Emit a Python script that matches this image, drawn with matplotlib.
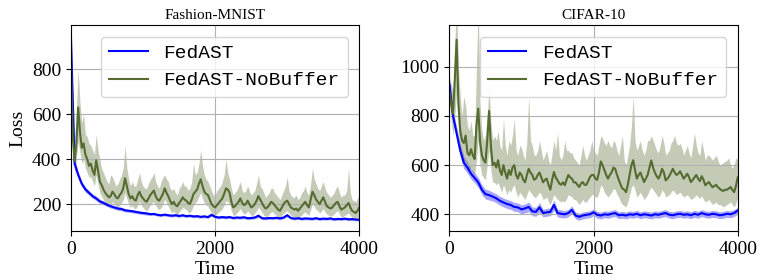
import numpy as np
import matplotlib
matplotlib.use("Agg")
import matplotlib.pyplot as plt

plt.rcParams['font.family'] = 'serif'
plt.rcParams['font.serif'] = ['Liberation Serif', 'DejaVu Serif']

# FedAST curves sampled every 50 time units, NoBuffer curves every 25
time50 = np.arange(0, 4001, 50)
time25 = np.arange(0, 4001, 25)

# ---- Fashion-MNIST ----
fm_buf = [940, 380, 330, 290, 265, 250, 235, 225, 212, 205,
          197, 190, 185, 180, 178, 172, 170, 168, 165, 162,
          160, 158, 155, 156, 152, 150, 153, 150, 148, 150,
          147, 150, 146, 148, 145, 146, 143, 145, 142, 152,
          143, 140, 142, 140, 142, 138, 140, 139, 141, 137,
          138, 140, 148, 137, 136, 138, 137, 139, 136, 140,
          150, 138, 135, 137, 134, 136, 135, 134, 137, 133,
          135, 134, 136, 132, 134, 133, 135, 132, 133, 131,
          130]
fm_buf_sd = [10, 25, 15, 12, 12, 10, 10, 10, 9, 9,
             8, 8, 8, 8, 8, 7, 7, 7, 7, 7,
             7, 7, 6, 6, 6, 6, 6, 6, 6, 6,
             6, 6, 6, 6, 6, 6, 6, 6, 6, 7,
             6, 6, 6, 6, 6, 6, 6, 6, 6, 6,
             6, 6, 7, 6, 6, 6, 6, 6, 6, 6,
             7, 6, 6, 6, 6, 6, 6, 6, 6, 6,
             6, 6, 6, 6, 6, 6, 6, 6, 6, 6,
             6]
fm_nobuf = [820, 500, 390, 470, 630, 520, 450, 470, 420, 400,
            370, 380, 350, 330, 395, 350, 300, 285, 265, 250,
            240, 230, 235, 255, 245, 230, 225, 240, 250, 270,
            315, 280, 245, 225, 235, 220, 215, 240, 255, 235,
            225, 215, 210, 225, 240, 250, 260, 235, 220, 215,
            230, 245, 270, 250, 235, 215, 200, 210, 195, 190,
            205, 215, 230, 220, 215, 205, 200, 220, 245, 255,
            265, 290, 310, 280, 255, 245, 240, 220, 200, 190,
            185, 195, 205, 215, 225, 245, 270, 265, 250, 210,
            185, 190, 200, 210, 225, 205, 195, 200, 215, 200,
            185, 190, 200, 215, 235, 220, 205, 190, 180, 185,
            195, 210, 205, 195, 185, 175, 170, 185, 200, 210,
            215, 200, 185, 180, 175, 180, 170, 180, 190, 200,
            210, 195, 185, 220, 255, 240, 220, 210, 200, 215,
            230, 210, 190, 185, 180, 185, 195, 205, 210, 190,
            175, 180, 185, 195, 205, 185, 170, 165, 160, 170,
            185]
fm_nobuf_hi = [880, 700, 480, 620, 800, 650, 560, 600, 510, 500,
               470, 460, 440, 420, 510, 440, 400, 360, 340, 320,
               300, 290, 330, 320, 300, 280, 290, 310, 330, 360,
               460, 360, 310, 280, 300, 280, 280, 310, 340, 300,
               280, 270, 270, 290, 310, 320, 340, 300, 280, 270,
               300, 320, 330, 310, 300, 270, 260, 270, 250, 240,
               270, 280, 300, 280, 280, 260, 270, 300, 380, 330,
               340, 380, 440, 370, 330, 310, 300, 280, 260, 240,
               240, 260, 270, 280, 300, 330, 400, 340, 310, 270,
               240, 250, 260, 280, 300, 260, 250, 260, 280, 260,
               240, 250, 260, 290, 330, 280, 270, 250, 230, 240,
               250, 270, 270, 250, 240, 230, 220, 240, 260, 280,
               320, 260, 240, 230, 230, 240, 220, 230, 250, 260,
               280, 250, 240, 290, 360, 310, 290, 270, 260, 280,
               300, 270, 250, 240, 230, 240, 250, 270, 280, 250,
               230, 240, 240, 260, 360, 250, 220, 215, 210, 225,
               240]
fm_nobuf_lo = [760, 420, 340, 400, 480, 430, 380, 400, 360, 340,
               320, 320, 300, 280, 330, 290, 250, 235, 220, 205,
               200, 190, 195, 210, 200, 190, 185, 195, 205, 220,
               250, 225, 200, 185, 195, 180, 180, 195, 210, 195,
               185, 175, 170, 180, 195, 205, 210, 195, 180, 175,
               185, 200, 220, 205, 190, 175, 160, 170, 155, 150,
               165, 175, 185, 180, 175, 165, 160, 175, 195, 205,
               215, 235, 250, 225, 205, 195, 190, 175, 160, 150,
               150, 155, 165, 170, 180, 195, 215, 210, 200, 170,
               150, 150, 160, 170, 180, 165, 155, 160, 170, 160,
               150, 150, 160, 170, 185, 175, 165, 150, 145, 145,
               155, 165, 165, 155, 150, 140, 140, 150, 160, 165,
               170, 160, 150, 145, 140, 145, 135, 145, 150, 160,
               165, 155, 150, 175, 200, 190, 175, 170, 160, 170,
               180, 165, 155, 150, 145, 150, 155, 165, 170, 155,
               140, 145, 150, 155, 160, 150, 140, 135, 130, 135,
               150]

# ---- CIFAR-10 ----
cf_buf = [930, 800, 730, 660, 610, 590, 565, 548, 530, 500,
          482, 478, 472, 465, 455, 448, 442, 438, 430, 428,
          420, 424, 430, 412, 410, 428, 405, 408, 410, 438,
          405, 402, 400, 405, 418, 395, 390, 395, 398, 400,
          408, 398, 395, 400, 398, 402, 405, 396, 398, 395,
          400, 398, 402, 396, 400, 398, 395, 400, 398, 402,
          405, 398, 396, 400, 402, 398, 400, 396, 402, 398,
          405, 400, 398, 402, 400, 396, 398, 402, 400, 405,
          415]
cf_buf_sd = [15, 25, 25, 25, 25, 22, 22, 20, 20, 20,
             20, 20, 18, 18, 18, 18, 18, 18, 18, 18,
             18, 18, 20, 18, 18, 20, 16, 16, 16, 20,
             16, 16, 15, 15, 16, 14, 14, 14, 14, 14,
             14, 14, 14, 14, 14, 14, 14, 14, 14, 14,
             14, 14, 14, 14, 14, 14, 14, 14, 14, 14,
             14, 14, 14, 14, 14, 14, 14, 14, 14, 14,
             14, 14, 14, 14, 14, 14, 14, 14, 14, 14,
             14]
cf_nobuf = [900, 850, 810, 950, 1110, 850, 740, 700, 690, 720,
            650, 640, 665, 640, 625, 760, 830, 700, 640, 620,
            610, 700, 820, 680, 600, 610, 590, 620, 580, 560,
            600, 570, 545, 580, 560, 590, 600, 560, 545, 570,
            560, 540, 530, 560, 585, 570, 560, 540, 545, 560,
            570, 550, 530, 540, 545, 520, 500, 540, 572, 550,
            538, 525, 520, 530, 518, 540, 560, 550, 545, 530,
            530, 520, 511, 525, 531, 520, 520, 535, 552, 560,
            560, 545, 540, 570, 615, 600, 580, 560, 545, 560,
            570, 590, 585, 560, 540, 520, 505, 500, 490, 520,
            560, 600, 620, 580, 545, 560, 570, 550, 531, 545,
            560, 590, 619, 590, 570, 555, 545, 560, 585, 570,
            538, 545, 555, 570, 585, 570, 560, 565, 575, 560,
            545, 555, 565, 550, 531, 540, 550, 560, 545, 535,
            555, 540, 518, 525, 531, 520, 510, 515, 520, 510,
            504, 498, 495, 500, 500, 505, 511, 500, 490, 515,
            550]
cf_nobuf_hi = [960, 930, 900, 1100, 1250, 1000, 880, 800, 880, 840,
               760, 740, 780, 720, 720, 1000, 1250, 850, 740, 700,
               720, 800, 920, 780, 700, 720, 700, 740, 680, 660,
               790, 680, 640, 700, 680, 720, 790, 660, 640, 680,
               670, 640, 620, 700, 880, 700, 680, 640, 640, 660,
               700, 660, 620, 640, 660, 620, 600, 650, 700, 660,
               734, 640, 620, 640, 700, 660, 660, 650, 650, 630,
               620, 610, 600, 640, 680, 640, 620, 640, 660, 700,
               660, 650, 640, 680, 720, 710, 690, 680, 700, 680,
               670, 700, 690, 660, 640, 680, 720, 620, 600, 640,
               680, 760, 880, 700, 660, 680, 700, 660, 640, 660,
               700, 700, 720, 700, 680, 660, 650, 680, 720, 690,
               640, 650, 660, 690, 700, 720, 690, 680, 690, 670,
               640, 660, 680, 650, 630, 680, 730, 680, 650, 640,
               700, 660, 620, 640, 640, 630, 620, 630, 640, 620,
               600, 605, 610, 615, 620, 630, 600, 590, 600, 630,
               620]
cf_nobuf_lo = [850, 780, 720, 800, 900, 740, 650, 620, 610, 620,
               580, 570, 590, 570, 560, 620, 700, 600, 560, 550,
               540, 600, 660, 580, 530, 530, 520, 530, 510, 490,
               520, 500, 480, 500, 490, 510, 520, 490, 470, 490,
               480, 470, 460, 480, 500, 490, 480, 470, 470, 480,
               490, 480, 460, 465, 470, 450, 440, 460, 480, 470,
               460, 455, 450, 455, 450, 465, 480, 475, 470, 460,
               460, 450, 440, 450, 460, 450, 450, 460, 470, 480,
               480, 470, 470, 490, 520, 510, 490, 480, 470, 480,
               490, 505, 500, 480, 470, 450, 440, 435, 430, 450,
               480, 510, 520, 500, 470, 480, 490, 475, 460, 470,
               480, 500, 510, 500, 490, 480, 470, 480, 500, 490,
               470, 475, 480, 490, 500, 490, 480, 485, 490, 480,
               470, 475, 480, 470, 460, 465, 470, 480, 470, 465,
               475, 460, 450, 455, 460, 450, 440, 445, 450, 440,
               440, 435, 430, 435, 440, 445, 450, 440, 430, 445,
               470]

panels = [
    ("Fashion-MNIST", fm_buf, fm_buf_sd, fm_nobuf, fm_nobuf_lo, fm_nobuf_hi,
     (80, 997), [200, 400, 600, 800]),
    ("CIFAR-10", cf_buf, cf_buf_sd, cf_nobuf, cf_nobuf_lo, cf_nobuf_hi,
     (332, 1170), [400, 600, 800, 1000]),
]

blue = "blue"
green = "#556b2f"

fig, axes = plt.subplots(1, 2, figsize=(7.6, 2.8), dpi=100)
fig.subplots_adjust(left=0.0934, right=0.9707, bottom=0.175, top=0.9107, wspace=0.3125)

for ax, (title, buf, buf_sd, nob, nob_lo, nob_hi, ylim, yticks) in zip(axes, panels):
    buf = np.array(buf)
    buf_sd = np.array(buf_sd)
    ax.fill_between(time50, buf - buf_sd, buf + buf_sd, color=blue, alpha=0.35, lw=0)
    ax.plot(time50, buf, color=blue, lw=1.5, label="FedAST")
    ax.fill_between(time25, nob_lo, nob_hi, color=green, alpha=0.35, lw=0)
    ax.plot(time25, nob, color=green, lw=1.5, label="FedAST-NoBuffer")
    ax.set_xlim(0, 4000)
    ax.set_ylim(*ylim)
    ax.set_xticks([0, 2000, 4000])
    ax.set_yticks(yticks)
    ax.tick_params(labelsize=14)
    ax.grid(True)
    ax.set_title(title, fontsize=11, pad=4)
    ax.set_xlabel("Time", fontsize=14, labelpad=2)
    ax.legend(loc="upper right", prop={'family': 'Liberation Mono', 'size': 14},
              borderaxespad=0.6)

axes[0].set_ylabel("Loss", fontsize=14)

plt.savefig("out.png", dpi=100)
